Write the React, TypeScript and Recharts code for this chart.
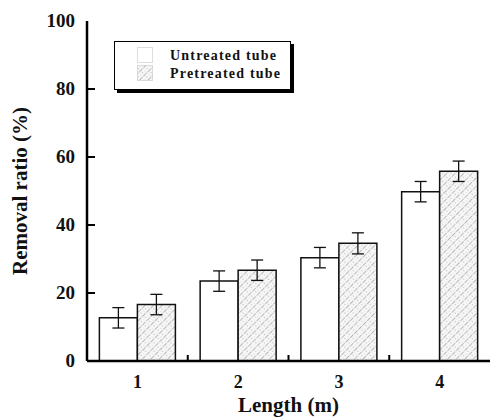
import React from 'react';
import { BarChart, Bar, XAxis, YAxis, ErrorBar } from 'recharts';

// Removal ratio per tube length
const lengths = ['1', '2', '3', '4'];
const untreated = [12.7, 23.5, 30.4, 49.8];
const pretreated = [16.6, 26.7, 34.6, 55.8];
const untreatedErr = [3, 3, 3, 3];
const pretreatedErr = [3, 3, 3.1, 3];
const yTicks = [0, 20, 40, 60, 80, 100];
const seriesNames = ['Untreated tube', 'Pretreated tube'];

const data = lengths.map((l, i) => ({
  name: l,
  untreated: untreated[i],
  pretreated: pretreated[i],
  uErr: untreatedErr[i],
  pErr: pretreatedErr[i],
}));

const FONT = '"Liberation Serif", "Times New Roman", serif';
const AXIS_W = 2.5;

const LeftTick = (props: any) => {
  const { x, y, payload } = props;
  const ax = x + 12;
  return (
    <g>
      {payload.value !== 0 && payload.value !== 100 && (
        <line x1={ax} x2={ax + 8} y1={y} y2={y} stroke="#000" strokeWidth={2} />
      )}
      <text x={x} y={y} dy={6} textAnchor="end" fontFamily={FONT} fontWeight="bold" fontSize={19} fill="#111">
        {payload.value}
      </text>
    </g>
  );
};

const RightTick = (props: any) => {
  const { x, y, payload } = props;
  if (payload.value === 0 || payload.value === 100) return null;
  return <line x1={x} x2={x - 5} y1={y} y2={y} stroke="#000" strokeWidth={2} />;
};

const BottomTick = (props: any) => {
  const { x, y, payload, index, width } = props;
  const half = payload.offset || width / lengths.length / 2;
  const last = index === lengths.length - 1;
  return (
    <g>
      {!last && (
        <line x1={x + half} x2={x + half} y1={y - 8} y2={y - 14} stroke="#000" strokeWidth={2} />
      )}
      <text x={x} y={y + 19} textAnchor="middle" fontFamily={FONT} fontWeight="bold" fontSize={18} fill="#111">
        {payload.value}
      </text>
    </g>
  );
};

const TopTick = (props: any) => {
  const { x, y, payload, index, width } = props;
  const half = payload.offset || width / lengths.length / 2;
  if (index === lengths.length - 1) return null;
  return <line x1={x + half} x2={x + half} y1={y} y2={y + 5} stroke="#000" strokeWidth={2} />;
};

const LegendBox = () => (
  <div
    style={{
      position: 'absolute',
      left: 114,
      top: 41,
      width: 177,
      height: 49,
      border: '1.5px solid #000',
      boxShadow: '3px 3px 0 #000',
      background: '#fff',
      fontFamily: FONT,
      fontWeight: 'bold',
      fontSize: 14,
      letterSpacing: 1.2,
      color: '#111',
      boxSizing: 'border-box',
    }}
  >
    {seriesNames.map((label, i) => (
      <div key={label} style={{ position: 'absolute', left: 22, top: 5 + i * 18, display: 'flex', alignItems: 'center' }}>
        <svg width={17} height={17} style={{ display: 'block' }}>
          <rect x={0.5} y={0.5} width={15} height={15} fill={i === 0 ? '#fff' : 'url(#hatch)'} stroke="#bbb" strokeDasharray="1 1" />
        </svg>
        <span style={{ marginLeft: 16, lineHeight: '17px' }}>{label}</span>
      </div>
    ))}
  </div>
);

export default function App() {
  return (
    <div style={{ position: 'absolute', left: 0, top: 0, width: 491, height: 418, background: '#fff' }}>
      <svg width={0} height={0} style={{ position: 'absolute' }}>
        <defs>
          <pattern id="hatch" patternUnits="userSpaceOnUse" width={6} height={6} patternTransform="rotate(45)">
            <rect width={6} height={6} fill="#f7f7f7" />
            <line x1={0} y1={0} x2={0} y2={6} stroke="#6a6a6a" strokeWidth={0.9} strokeDasharray="3.5 1.2" />
            <circle cx={3.2} cy={1.5} r={0.5} fill="#999" />
            <circle cx={4} cy={4.6} r={0.45} fill="#aaa" />
          </pattern>
        </defs>
      </svg>
      <BarChart
        width={491}
        height={418}
        data={data}
        margin={{ top: 21, right: 1, left: 0, bottom: 0 }}
        barCategoryGap="12.3%"
        barGap={0}
      >
        <XAxis
          dataKey="name"
          height={57}
          axisLine={{ stroke: '#000', strokeWidth: AXIS_W }}
          tickLine={false}
          tickSize={0}
          tickMargin={8}
          tick={<BottomTick />}
          interval={0}
          label={{
            value: 'Length (m)',
            position: 'insideBottom',
            offset: 6,
            style: { fontFamily: FONT, fontWeight: 'bold', fontSize: 21, fill: '#111' },
          }}
        />
        <XAxis
          xAxisId="top"
          dataKey="name"
          orientation="top"
          height={0}
          axisLine={{ stroke: '#000', strokeWidth: AXIS_W }}
          tickLine={false}
          tickSize={0}
          tickMargin={0}
          tick={<TopTick />}
          interval={0}
        />
        <YAxis
          domain={[0, 100]}
          ticks={yTicks}
          width={87}
          axisLine={{ stroke: '#000', strokeWidth: AXIS_W }}
          tickLine={false}
          tickSize={0}
          tickMargin={12}
          tick={<LeftTick />}
          interval={0}
          label={{
            value: 'Removal ratio (%)',
            angle: -90,
            position: 'insideLeft',
            offset: 20,
            style: { textAnchor: 'middle', fontFamily: FONT, fontWeight: 'bold', fontSize: 21, fill: '#111' },
          }}
        />
        <YAxis
          yAxisId="right"
          orientation="right"
          domain={[0, 100]}
          ticks={yTicks}
          width={0}
          axisLine={{ stroke: '#000', strokeWidth: AXIS_W }}
          tickLine={false}
          tickSize={0}
          tickMargin={0}
          tick={<RightTick />}
          interval={0}
        />
        <Bar dataKey="untreated" name={seriesNames[0]} fill="#fff" stroke="#111" strokeWidth={1.5} isAnimationActive={false}>
          <ErrorBar dataKey="uErr" width={6} stroke="#111" strokeWidth={1.3} />
        </Bar>
        <Bar dataKey="pretreated" name={seriesNames[1]} fill="url(#hatch)" stroke="#111" strokeWidth={1.5} isAnimationActive={false}>
          <ErrorBar dataKey="pErr" width={6} stroke="#111" strokeWidth={1.3} />
        </Bar>
      </BarChart>
      <LegendBox />
    </div>
  );
}
